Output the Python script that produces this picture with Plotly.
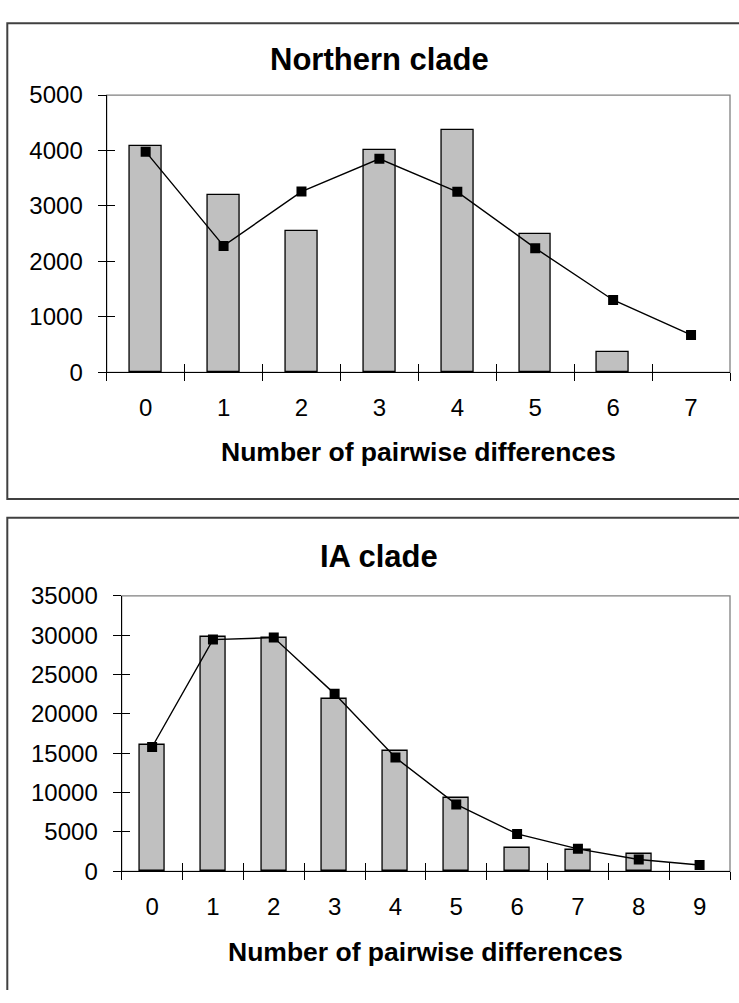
import plotly.graph_objects as go

W, H = 739, 1003
FONT = "Liberation Sans, Arial, sans-serif"

# ---------------- data ----------------
x_axis_title = "Number of pairwise differences"

northern_title = "Northern clade"
northern_diffs = [0, 1, 2, 3, 4, 5, 6, 7]
northern_observed = [4080, 3200, 2540, 4010, 4375, 2500, 375, None]
northern_expected = [3980, 2280, 3260, 3850, 3255, 2240, 1305, 675]
northern_yticks = [0, 1000, 2000, 3000, 4000, 5000]

ia_title = "IA clade"
ia_diffs = [0, 1, 2, 3, 4, 5, 6, 7, 8, 9]
ia_observed = [16000, 29800, 29600, 21950, 15250, 9300, 2950, 2700, 2200, None]
ia_expected = [15800, 29450, 29700, 22550, 14450, 8500, 4750, 2850, 1500, 800]
ia_yticks = [0, 5000, 10000, 15000, 20000, 25000, 30000, 35000]

# ---------------- layout (pixel geometry) ----------------
panels = [
    dict(title=northern_title, diffs=northern_diffs, obs=northern_observed,
         exp=northern_expected, yticks=northern_yticks,
         left=106.7, right=730, top=83.3, bottom=368.3,
         box_top=9.5, box_bottom=498.3, title_y=47, xtitle_y=450),
    dict(title=ia_title, diffs=ia_diffs, obs=ia_observed,
         exp=ia_expected, yticks=ia_yticks,
         left=121.7, right=730, top=598, bottom=881,
         box_top=517.7, box_bottom=None, title_y=558, xtitle_y=964),
]

fig = go.Figure()
layout = dict(
    width=W, height=H, margin=dict(l=0, r=0, t=0, b=0),
    paper_bgcolor="white", plot_bgcolor="white", showlegend=False,
    font=dict(family=FONT, color="black"),
    shapes=[], annotations=[], bargap=0,
)

extra_x = 2 * len(panels) + 1  # numbering for overlay axes
extra_y = len(panels) + 1


def tick_holder(xa, ya):
    # empty trace so that an overlay axis (used only for tick marks) is drawn
    fig.add_trace(go.Scatter(x=[], y=[], xaxis=xa, yaxis=ya, mode="markers",
                             hoverinfo="skip", showlegend=False))


def py(v):
    return 1 - v / H


for k, p in enumerate(panels, start=1):
    xs = "" if k == 1 else str(k)
    xname, yname = "x" + xs, "y" + xs
    n = len(p["diffs"])
    xr = [-0.5, n - 0.5]
    yr = [p["yticks"][0], p["yticks"][-1]]
    xdom = [p["left"] / W, p["right"] / W]
    ydom = [py(p["bottom"]), py(p["top"])]
    bounds = [i - 0.5 for i in range(n + 1)]

    fig.add_trace(go.Bar(
        x=p["diffs"], y=p["obs"], xaxis=xname, yaxis=yname, width=0.41,
        marker=dict(color="#C0C0C0", line=dict(color="black", width=1.3)),
    ))
    fig.add_trace(go.Scatter(
        x=p["diffs"], y=p["exp"], xaxis=xname, yaxis=yname, mode="lines+markers",
        line=dict(color="black", width=1.4),
        marker=dict(symbol="square", size=10, color="black"),
    ))

    layout["xaxis" + xs] = dict(
        domain=xdom, anchor=yname, range=xr, type="linear",
        tickvals=p["diffs"], ticktext=[str(d) for d in p["diffs"]],
        ticks="", showgrid=False, zeroline=False,
        showline=True, linecolor="black", linewidth=1.3,
        tickfont=dict(size=24, family=FONT), ticklabelstandoff=14,
    )
    layout["yaxis" + xs] = dict(
        domain=ydom, anchor=xname, range=yr,
        tickvals=p["yticks"], ticktext=[str(v) for v in p["yticks"]],
        ticks="outside", ticklen=8, tickwidth=1.2, tickcolor="black",
        showgrid=False, zeroline=False,
        showline=True, linecolor="black", linewidth=1.3,
        tickfont=dict(size=24, family=FONT), ticklabelstandoff=10,
    )
    # cross ticks on category boundaries (outside + inside halves)
    for side in ("outside", "inside"):
        ax = "x" + str(extra_x)
        layout["xaxis" + str(extra_x)] = dict(
            overlaying=xname, anchor=yname, range=xr,
            tickvals=bounds, ticks=side, ticklen=8, tickwidth=1.2, tickcolor="black",
            showticklabels=False, showgrid=False, zeroline=False, showline=False,
        )
        tick_holder(ax, yname)
        extra_x += 1
    ay = "y" + str(extra_y)
    layout["yaxis" + str(extra_y)] = dict(
        overlaying=yname, anchor=xname, side="left", range=yr,
        tickvals=p["yticks"], ticks="inside", ticklen=8, tickwidth=1.2, tickcolor="black",
        showticklabels=False, showgrid=False, zeroline=False, showline=False,
    )
    tick_holder(xname, ay)
    extra_y += 1

    # plot-area border (grey, Excel-style)
    layout["shapes"].append(dict(
        type="rect", xref=xname + " domain", yref=yname + " domain",
        x0=0, x1=1, y0=0, y1=1, line=dict(color="#808080", width=1.3),
        layer="below",
    ))
    # chart-area frame (kept inside the page; right / lower edges run off-page)
    fx0 = 7.3 / W
    top = py(p["box_top"])
    if p["box_bottom"] is None:
        path = f"M 1,{top} L {fx0},{top} L {fx0},0"
    else:
        bot = py(p["box_bottom"])
        path = f"M 1,{top} L {fx0},{top} L {fx0},{bot} L 1,{bot}"
    layout["shapes"].append(dict(
        type="path", xref="paper", yref="paper", path=path,
        line=dict(color="#404040", width=2),
    ))
    layout["annotations"].append(dict(
        text=p["title"], xref="paper", yref="paper", x=379 / W, y=py(p["title_y"]),
        xanchor="center", yanchor="middle", showarrow=False,
        font=dict(size=31, family=FONT, weight="bold", color="black"),
    ))
    layout["annotations"].append(dict(
        text=x_axis_title, xref="paper", yref="paper",
        x=(p["left"] + p["right"]) / 2 / W, y=py(p["xtitle_y"]),
        xanchor="center", yanchor="middle", showarrow=False,
        font=dict(size=26.5, family=FONT, weight="bold", color="black"),
    ))

fig.update_layout(**layout)
fig.write_html(
    "out.html",
    config={"displayModeBar": False},
    post_script="document.body.style.margin='0';document.body.style.overflow='hidden';",
)
